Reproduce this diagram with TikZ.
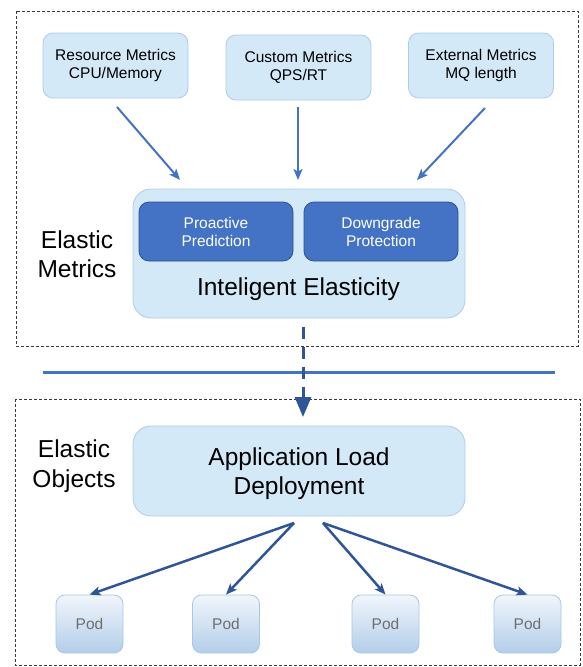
\documentclass[tikz,border=0pt]{standalone}
\usepackage{fontspec}
\setmainfont{Liberation Sans}
\usetikzlibrary{arrows.meta}
\definecolor{lightfill}{HTML}{D4E9F7}
\definecolor{lightedge}{HTML}{AECBEA}
\definecolor{darkfill}{HTML}{4472C4}
\definecolor{darkedge}{HTML}{2F528F}
\definecolor{arrowA}{HTML}{4472C4}
\definecolor{arrowB}{HTML}{2F5597}
\definecolor{podtop}{HTML}{F1F6FC}
\definecolor{podbot}{HTML}{B2CEE9}
\definecolor{podedge}{HTML}{A9C6E8}
\definecolor{podtext}{HTML}{6E6E6E}
\definecolor{frame}{HTML}{3A3A3A}
\begin{document}
\begin{tikzpicture}[x=1pt,y=-1pt,
  smallfont/.style={font=\fontsize{15.5}{18}\selectfont},
  bigfont/.style={font=\fontsize{24.5}{29.5}\selectfont},
  metricbox/.style={draw=lightedge, fill=lightfill, rounded corners=10pt, line width=0.8pt,
    minimum width=145pt, minimum height=65pt, align=center, smallfont, inner sep=0pt},
  bigbox/.style={draw=lightedge, fill=lightfill, rounded corners=18pt, line width=0.8pt,
    minimum width=332pt, inner sep=0pt, align=center, bigfont},
  darkbox/.style={draw=darkedge, fill=darkfill, rounded corners=10pt, line width=0.8pt,
    minimum width=154pt, minimum height=59pt, align=center, smallfont, text=white, inner sep=0pt},
  podbox/.style={draw=podedge, top color=podtop, bottom color=podbot, rounded corners=9pt,
    line width=0.8pt, minimum width=67pt, minimum height=58pt, inner sep=0pt, smallfont, text=podtext},
  groupframe/.style={draw=frame, line width=0.9pt, dash pattern=on 3pt off 2pt},
  label/.style={bigfont, align=center, inner sep=0pt},
  toparrow/.style={draw=arrowA, line width=2pt, -{Stealth[length=11pt,width=9pt,inset=2.5pt]}},
  botarrow/.style={draw=arrowB, line width=2.5pt, -{Stealth[length=11pt,width=9pt,inset=2.5pt]}},
]
\useasboundingbox (0,0) rectangle (582,667);

% group frames
\draw[groupframe] (16,11) rectangle (578,346);
\draw[groupframe] (15,399) rectangle (580,665);

% metric sources
\node[metricbox] (res) at (115.5,65.5) {Resource Metrics\\CPU/Memory};
\node[metricbox] (cus) at (298.5,67.5) {Custom Metrics\\QPS/RT};
\node[metricbox] (ext) at (481,65.5) {External Metrics\\MQ length};

% intelligent elasticity
\node[bigbox, minimum height=129pt] (intel) at (299,253.5) {};
\node[darkbox] (pro) at (216,231.5) {Proactive\\Prediction};
\node[darkbox] (down) at (381,231.5) {Downgrade\\Protection};
\node[bigfont, inner sep=0pt] (intelt) at (298.5,289) {Inteligent Elasticity};

\node[label] (lm) at (77,254) {Elastic\\Metrics};
\node[label] (lo) at (74,466) {Elastic\\Objects};

% application
\node[bigbox, minimum height=90pt] (app) at (299,471) {};
\node[label] (appt) at (299,473.5) {Application Load\\Deployment};

% pods
\node[podbox] (p1) at (89.5,624) {Pod};
\node[podbox] (p2) at (226,624) {Pod};
\node[podbox] (p3) at (385.5,624) {Pod};
\node[podbox] (p4) at (527.5,624) {Pod};

% top arrows
\coordinate (a1s) at (117,107);
\coordinate (a1e) at (180,180);
\coordinate (a2s) at (298,107);
\coordinate (a2e) at (298,180);
\coordinate (a3s) at (485,108);
\coordinate (a3e) at (417,180);
\draw[toparrow] (a1s) -- (a1e);
\draw[toparrow] (a2s) -- (a2e);
\draw[toparrow] (a3s) -- (a3e);

% separator line
\coordinate (hl) at (43,372.5);
\coordinate (hr) at (555,372.5);
\draw[arrowA, line width=2.5pt] (hl) -- (hr);

% dashed arrow
\coordinate (ds) at (303,327);
\coordinate (de) at (303,417);
\draw[arrowB, line width=3pt, dash pattern=on 12pt off 8pt,
  -{Triangle[length=20pt,width=16pt]}] (ds) -- (de);

% bottom arrows
\coordinate (b1) at (294,523);
\coordinate (b2) at (323,523);
\draw[botarrow] (b1) -- (p1.north);
\draw[botarrow] (b1) -- (p2.north);
\draw[botarrow] (b2) -- (p3.north);
\draw[botarrow] (b2) -- (p4.north);
\end{tikzpicture}
\end{document}
